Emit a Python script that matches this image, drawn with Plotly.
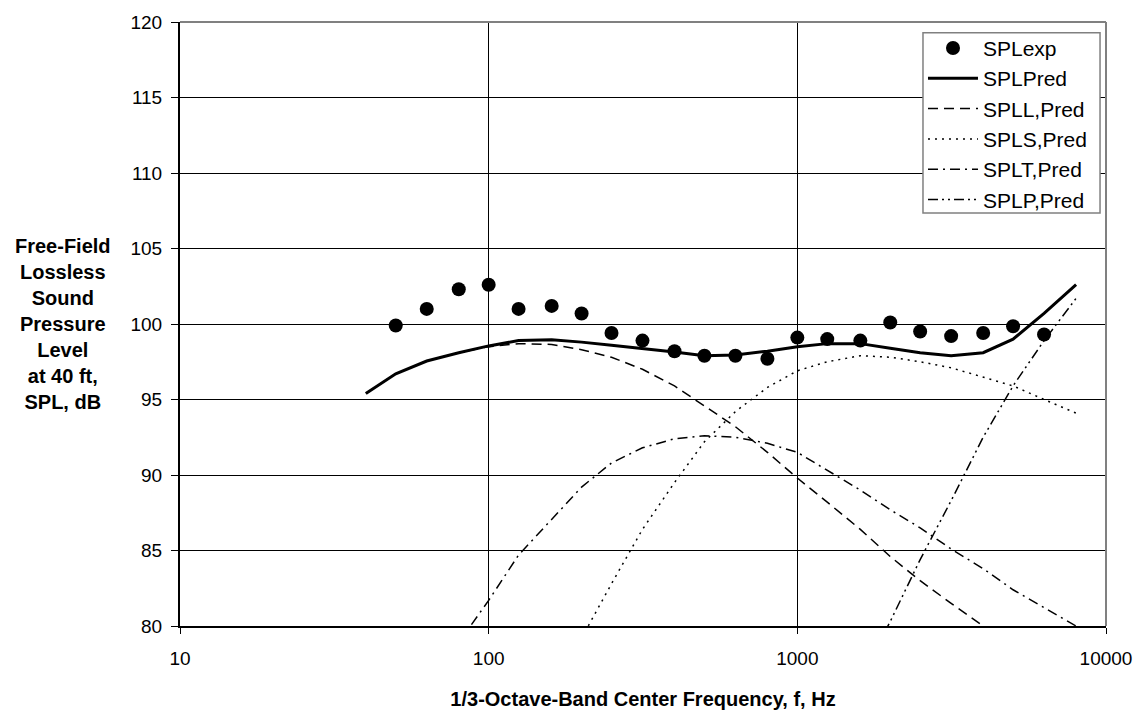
import plotly.graph_objects as go

# 1/3-octave band centre frequencies, Hz
freq_exp = [50, 63, 80, 100, 125, 160, 200, 250, 315, 400, 500, 630, 800,
            1000, 1250, 1600, 2000, 2500, 3150, 4000, 5000, 6300]
spl_exp = [99.9, 101.0, 102.3, 102.6, 101.0, 101.2, 100.7, 99.4, 98.9, 98.2, 97.9, 97.9, 97.7,
           99.1, 99.0, 98.9, 100.1, 99.5, 99.2, 99.4, 99.85, 99.3]

freq_pred = [40, 50, 63, 80, 100, 125, 160, 200, 250, 315, 400, 500, 630, 800,
             1000, 1250, 1600, 2000, 2500, 3150, 4000, 5000, 6300, 8000]
spl_pred = [95.4, 96.7, 97.55, 98.1, 98.55, 98.9, 98.95, 98.8, 98.6, 98.4, 98.15, 97.9, 97.95, 98.2,
            98.5, 98.7, 98.7, 98.4, 98.1, 97.9, 98.1, 99.0, 100.7, 102.6]

freq_L = [40, 50, 63, 80, 100, 125, 160, 200, 250, 315, 400, 500, 630, 800,
          1000, 1250, 1600, 2000, 2500, 3150, 4000, 5000]
spl_L = [95.4, 96.7, 97.55, 98.1, 98.5, 98.7, 98.65, 98.3, 97.8, 97.0, 95.9, 94.6, 93.2, 91.5,
         89.8, 88.2, 86.4, 84.6, 83.0, 81.5, 80.0, 78.4]

freq_S = [200, 250, 315, 400, 500, 630, 800, 1000, 1250, 1600, 2000, 2500, 3150, 4000, 5000, 6300, 8000]
spl_S = [79.2, 82.8, 86.4, 89.5, 92.2, 94.2, 95.8, 96.9, 97.5, 97.9, 97.8, 97.5, 97.1, 96.5, 95.9, 95.0, 94.1]

freq_T = [80, 100, 125, 160, 200, 250, 315, 400, 500, 630, 800, 1000, 1250, 1600, 2000,
          2500, 3150, 4000, 5000, 6300, 8000]
spl_T = [78.9, 81.7, 84.7, 87.1, 89.2, 90.8, 91.8, 92.4, 92.6, 92.5, 92.1, 91.5, 90.3, 89.0, 87.7,
         86.5, 85.1, 83.8, 82.4, 81.2, 80.0]

freq_P = [1600, 2000, 2500, 3150, 4000, 5000, 6300, 8000]
spl_P = [76.5, 80.3, 84.4, 88.3, 92.5, 95.9, 98.9, 101.7]

x_ticks = [10, 100, 1000, 10000]
y_ticks = [80, 85, 90, 95, 100, 105, 110, 115, 120]

FONT = "Arial, Liberation Sans, sans-serif"
W, H = 1144, 719
ML, MR, MT, MB = 180, 33, 17, 82
PW, PH = W - ML - MR, H - MT - MB


def px_x(p):
    return (p - ML) / PW


def px_y(p):
    return (H - MB - p) / PH


fig = go.Figure()
fig.add_trace(go.Scatter(x=freq_exp, y=spl_exp, mode="markers", name="SPLexp",
                         marker=dict(color="black", size=14, symbol="circle")))
fig.add_trace(go.Scatter(x=freq_pred, y=spl_pred, mode="lines", name="SPLPred",
                         line=dict(color="black", width=3)))
fig.add_trace(go.Scatter(x=freq_L, y=spl_L, mode="lines", name="SPLL,Pred",
                         line=dict(color="black", width=1.5, dash="10px,6px")))
fig.add_trace(go.Scatter(x=freq_S, y=spl_S, mode="lines", name="SPLS,Pred",
                         line=dict(color="black", width=1.5, dash="2px,5px")))
fig.add_trace(go.Scatter(x=freq_T, y=spl_T, mode="lines", name="SPLT,Pred",
                         line=dict(color="black", width=1.5, dash="10px,5px,2px,5px")))
fig.add_trace(go.Scatter(x=freq_P, y=spl_P, mode="lines", name="SPLP,Pred",
                         line=dict(color="black", width=1.5, dash="10px,4px,2px,4px,2px,4px")))

fig.update_layout(
    width=W, height=H,
    margin=dict(l=ML, r=MR, t=MT, b=MB),
    paper_bgcolor="white", plot_bgcolor="white",
    font=dict(family=FONT, size=19, color="black"),
    showlegend=True,
    legend=dict(x=px_x(927), y=px_y(23), xanchor="left", yanchor="top",
                bgcolor="rgba(0,0,0,0)", borderwidth=0,
                font=dict(family=FONT, size=21, color="black"),
                itemwidth=50, tracegroupgap=0),
    xaxis=dict(type="log", range=[1, 4], tickvals=x_ticks, ticktext=[str(v) for v in x_ticks],
               showgrid=True, gridcolor="black", gridwidth=1,
               showline=True, linecolor="black", linewidth=1.5,
               ticks="outside", ticklen=6, tickcolor="black", tickwidth=1,
               ticklabelstandoff=8,
               tickfont=dict(family=FONT, size=19), zeroline=False,
               title=dict(text="<b>1/3-Octave-Band Center Frequency, f, Hz</b>",
                          font=dict(family=FONT, size=20), standoff=24)),
    yaxis=dict(range=[80, 120], tickvals=y_ticks,
               showgrid=True, gridcolor="black", gridwidth=1,
               showline=True, linecolor="black", linewidth=2,
               ticks="outside", ticklen=7, tickcolor="black", tickwidth=1,
               ticklabelstandoff=5,
               tickfont=dict(family=FONT, size=19), zeroline=False),
)

# plot frame (top and right in grey)
fig.add_shape(type="line", xref="paper", yref="paper", x0=1, x1=1, y0=0, y1=1,
              line=dict(color="#808080", width=2))
fig.add_shape(type="line", xref="paper", yref="paper", x0=0, x1=1, y0=1, y1=1,
              line=dict(color="#808080", width=2))
# legend box
fig.add_shape(type="rect", xref="paper", yref="paper",
              x0=px_x(927), x1=px_x(1105), y0=px_y(213), y1=px_y(28),
              fillcolor="white", line=dict(color="#808080", width=1.5), layer="above")

fig.add_annotation(xref="paper", yref="y", x=px_x(62), y=100, xanchor="center", yanchor="middle",
                   showarrow=False, align="center",
                   text="<b>Free-Field<br>Lossless<br>Sound<br>Pressure<br>Level<br>at 40 ft,<br>SPL, dB</b>",
                   font=dict(family=FONT, size=20, color="black"))

fig.write_html("out.html", config={"displayModeBar": False},
               post_script="document.body.style.margin='0';document.body.style.overflow='hidden';")
